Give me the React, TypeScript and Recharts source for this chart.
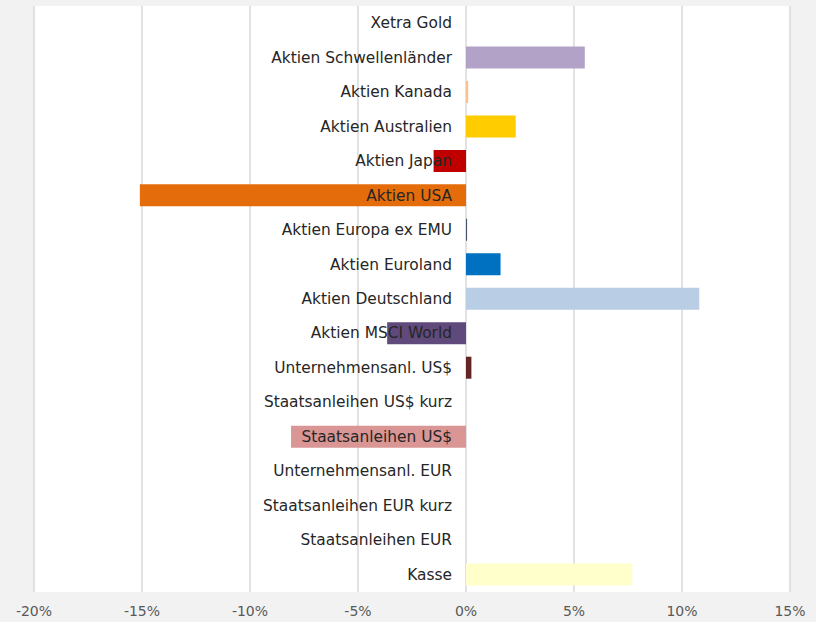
import React from 'react';
import { BarChart, Bar, XAxis, YAxis, CartesianGrid, Cell } from 'recharts';

// Kategorien von oben nach unten
const categories = [
  'Xetra Gold',
  'Aktien Schwellenländer',
  'Aktien Kanada',
  'Aktien Australien',
  'Aktien Japan',
  'Aktien USA',
  'Aktien Europa ex EMU',
  'Aktien Euroland',
  'Aktien Deutschland',
  'Aktien MSCI World',
  'Unternehmensanl. US$',
  'Staatsanleihen US$ kurz',
  'Staatsanleihen US$',
  'Unternehmensanl. EUR',
  'Staatsanleihen EUR kurz',
  'Staatsanleihen EUR',
  'Kasse',
];

// Abweichung in Prozent
const values = [0, 5.5, 0.1, 2.3, -1.5, -15.1, 0.05, 1.6, 10.8, -3.65, 0.25, 0, -8.1, 0, 0, 0, 7.7];

const barColors = [
  '#d9d9d9', '#b3a2c7', '#fac090', '#ffcc00', '#c00000', '#e46c0a', '#44546a', '#0070c0',
  '#b9cde5', '#604a7b', '#632523', '#d9d9d9', '#d99694', '#d9d9d9', '#d9d9d9', '#d9d9d9', '#ffffcc',
];

const xTicks = [-20, -15, -10, -5, 0, 5, 10, 15];
const X_MIN = -20;
const X_MAX = 15;

const FONT = '"DejaVu Sans", sans-serif';
const WIDTH = 816;
const HEIGHT = 622;
const Y_AXIS_WIDTH = 1;
const MARGIN = { top: 6, right: 26, left: 33, bottom: 0 };

// Kategorie-Beschriftung an der Nulllinie
const plotLeft = MARGIN.left + Y_AXIS_WIDTH;
const plotWidth = WIDTH - plotLeft - MARGIN.right;
const zeroX = plotLeft + ((0 - X_MIN) / (X_MAX - X_MIN)) * plotWidth;

function renderCategoryTick(props: any) {
  const { y, payload } = props;
  return (
    <text
      x={zeroX - 14}
      y={y}
      textAnchor="end"
      dominantBaseline="central"
      fontFamily={FONT}
      fontSize={15.4}
      fill="#262626"
    >
      {payload.value}
    </text>
  );
}

export default function App() {
  const chartData = categories.map((name, i) => ({ name, value: values[i] }));

  return (
    <div style={{ position: 'absolute', left: 0, top: 0, width: WIDTH, height: HEIGHT, background: '#f2f2f2' }}>
      <BarChart
        width={WIDTH}
        height={HEIGHT}
        layout="vertical"
        data={chartData}
        margin={MARGIN}
        barSize={22}
      >
        <CartesianGrid horizontal={false} fill="#ffffff" stroke="#d9d9d9" strokeWidth={1.5} />
        <XAxis
          type="number"
          domain={[X_MIN, X_MAX]}
          ticks={xTicks}
          tickFormatter={(v) => `${v}%`}
          axisLine={false}
          tickLine={false}
          height={30}
          tick={{ fill: '#595959', fontSize: 14, fontFamily: FONT }}
          tickMargin={8}
        />
        <Bar dataKey="value" isAnimationActive={false}>
          {chartData.map((d, i) => (
            <Cell key={d.name} fill={barColors[i]} />
          ))}
        </Bar>
        <YAxis
          type="category"
          dataKey="name"
          width={Y_AXIS_WIDTH}
          axisLine={false}
          tickLine={false}
          interval={0}
          tick={renderCategoryTick}
        />
      </BarChart>
    </div>
  );
}
